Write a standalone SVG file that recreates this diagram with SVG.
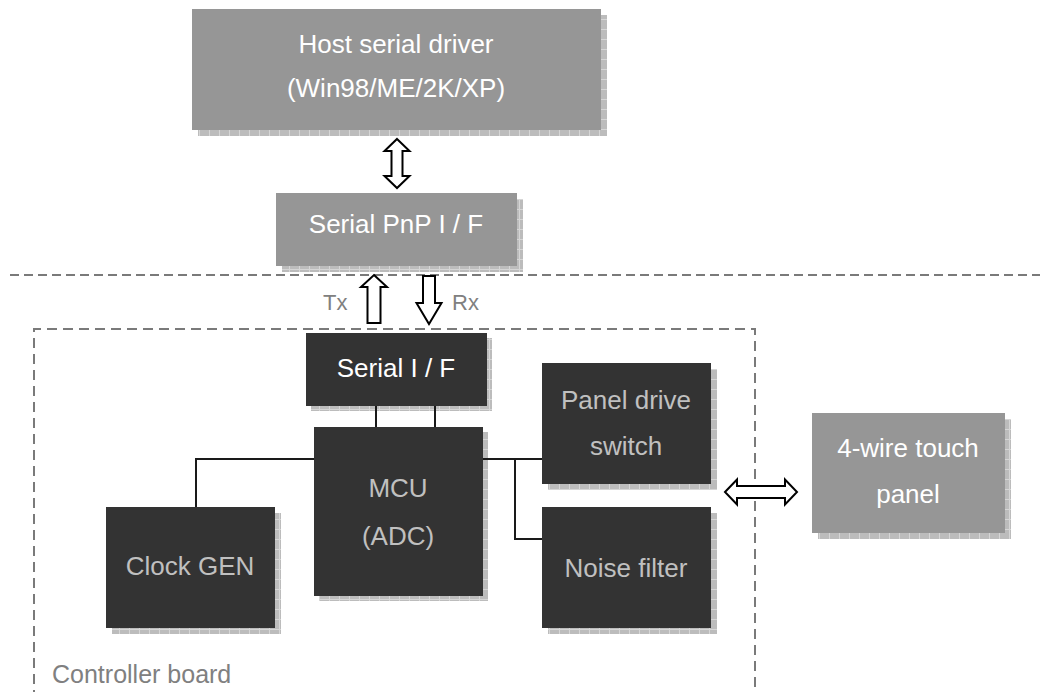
<svg xmlns="http://www.w3.org/2000/svg" width="1040" height="692" viewBox="0 0 1040 692">
<defs>
<pattern id="sh" width="10" height="10" patternUnits="userSpaceOnUse">
<rect width="10" height="10" fill="#bcbcbc"/>
<path d="M9.5,0 V10 M0,9.5 H10" stroke="#d6d6d6" stroke-width="1"/>
</pattern>
<style>
text{font-family:"Liberation Sans",Arial,sans-serif;text-anchor:middle;font-size:26px}
.lt{fill:#969696}
.dk{fill:#333333}
.shd{fill:url(#sh)}
.w{fill:#ffffff}
.g{fill:#c0c0c0}
.lab{fill:#808080;text-anchor:start}
.con{stroke:#1a1a1a;stroke-width:2;fill:none}
.arr{fill:#ffffff;stroke:#000000;stroke-width:2;stroke-linejoin:miter}
.dash{stroke:#7a7a7a;stroke-width:2;fill:none}
</style>
</defs>
<rect width="1040" height="692" fill="#ffffff"/>

<g id="separators">
<line class="dash" x1="10" y1="275" x2="1040" y2="275" stroke-dasharray="9,5"/>
<path class="dash" d="M34,700 V329 H755 V700" stroke-dasharray="10,6"/>
<text class="lab" x="52" y="683" style="font-size:25px">Controller board</text>
</g>

<g id="host">
<rect class="shd" x="198" y="15" width="409" height="121"/>
<rect class="lt" x="192" y="9" width="409" height="121"/>
<text class="w" x="396" y="53">Host serial driver</text>
<text class="w" x="396" y="97">(Win98/ME/2K/XP)</text>
</g>

<g id="pnp">
<rect class="shd" x="282" y="199" width="241" height="73"/>
<rect class="lt" x="276" y="193" width="241" height="73"/>
<text class="w" x="396" y="233">Serial PnP I / F</text>
</g>

<g id="serial">
<rect class="shd" x="311" y="338" width="181" height="73"/>
<rect class="dk" x="306" y="333" width="181" height="73"/>
<text class="w" x="396" y="377">Serial I / F</text>
</g>

<g id="mcu">
<rect class="shd" x="319" y="432" width="169" height="169"/>
<rect class="dk" x="314" y="427" width="169" height="169"/>
<text class="g" x="398" y="497">MCU</text>
<text class="g" x="398" y="545">(ADC)</text>
</g>

<g id="clock">
<rect class="shd" x="112" y="513" width="169" height="121"/>
<rect class="dk" x="106" y="507" width="169" height="121"/>
<text class="g" x="190" y="575">Clock GEN</text>
</g>

<g id="panel-drive">
<rect class="shd" x="548" y="369" width="169" height="121"/>
<rect class="dk" x="542" y="363" width="169" height="121"/>
<text class="g" x="626" y="409">Panel drive</text>
<text class="g" x="626" y="455">switch</text>
</g>

<g id="noise">
<rect class="shd" x="548" y="513" width="169" height="121"/>
<rect class="dk" x="542" y="507" width="169" height="121"/>
<text class="g" x="626" y="577">Noise filter</text>
</g>

<g id="touch">
<rect class="shd" x="818" y="419" width="193" height="120"/>
<rect class="lt" x="812" y="413" width="193" height="120"/>
<text class="w" x="908" y="457">4-wire touch</text>
<text class="w" x="908" y="503">panel</text>
</g>

<g id="connectors">
<line class="con" x1="376" y1="406" x2="376" y2="427"/>
<line class="con" x1="435" y1="406" x2="435" y2="427"/>
<path class="con" d="M314,459 H196 V507"/>
<path class="con" d="M483,459 H542"/>
<path class="con" d="M515,459 V539 H542"/>
<polygon class="arr" points="397,139 409.5,151 402.5,151 402.5,176 409.5,176 397,188 384.5,176 391.5,176 391.5,151 384.5,151"/>
<polygon class="arr" points="374,275 387,287 380.5,287 380.5,323 367.5,323 367.5,287 361,287"/>
<polygon class="arr" points="423,276 435,276 435,303 441.5,303 429,324 416.5,303 423,303"/>
<polygon class="arr" points="725,492 737,479.5 737,486 785,486 785,479.5 797,492 785,504.5 785,498 737,498 737,504.5"/>
<text class="lab" x="323" y="310" style="font-size:22px">Tx</text>
<text class="lab" x="452" y="310" style="font-size:22px">Rx</text>
</g>
</svg>
